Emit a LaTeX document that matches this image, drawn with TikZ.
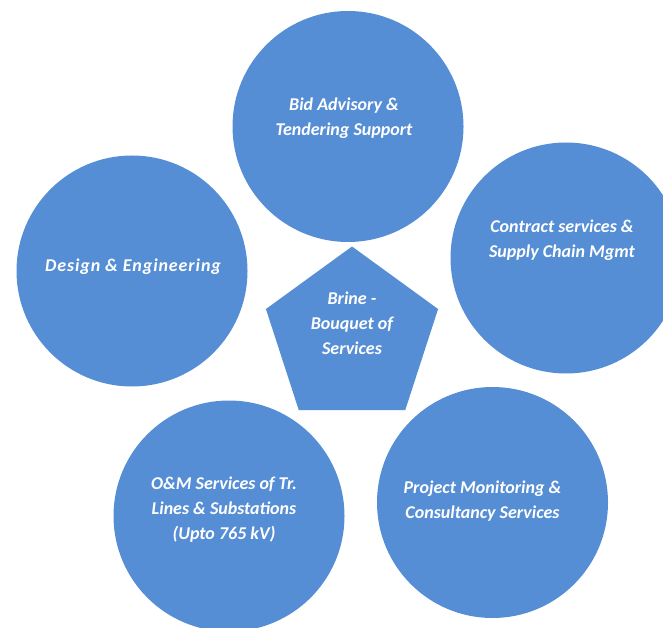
\documentclass[tikz,border=0pt]{standalone}
\usepackage{fontspec}
\setmainfont{Carlito}
\usetikzlibrary{shapes.geometric}
\definecolor{brineblue}{RGB}{85,142,213}
\tikzset{
  service/.style={circle, fill=brineblue, draw=none, minimum size=231pt, inner sep=0pt},
  hub/.style={regular polygon, regular polygon sides=5, fill=brineblue, minimum size=181pt, inner sep=0pt},
  caption/.style={text=white, align=center, inner sep=0pt, font=\fontsize{18}{25}\selectfont\bfseries\itshape}
}

\begin{document}
\begin{tikzpicture}[x=1pt,y=-1pt]
\useasboundingbox (0,0) rectangle (663,628);
\clip (0,0) rectangle (663,628);
% five services round the hub
\node[service] (bid) at (348,126.5) {};
\node[service] (design) at (132,271) {};
\node[service] (contract) at (566,258) {};
\node[service] (om) at (229,516) {};
\node[service] (project) at (492.5,502.5) {};
\node[hub] (brine) at (352,337) {};
% texts
\node[caption] (bidtext) at ([xshift=-4pt,yshift=8pt]bid.center) {Bid Advisory \&\\Tendering Support};
\node[caption] (designtext) at ([xshift=1pt,yshift=4pt]design.center) {\addfontfeature{LetterSpace=5}Design \& Engineering};
\node[caption] (contracttext) at ([xshift=-4pt,yshift=18pt]contract.center) {Contract services \&\\Supply Chain Mgmt};
\node[caption] (omtext) at ([xshift=-5pt,yshift=6pt]om.center) {O\&M Services of Tr.\\Lines \& Substations\\(Upto 765 kV)};
\node[caption] (projecttext) at ([xshift=-10pt,yshift=1pt]project.center) {Project Monitoring \&\\Consultancy Services};
\node[caption] (brinetext) at ([yshift=14pt]brine.center) {Brine -\\Bouquet of\\Services};
\end{tikzpicture}
\end{document}
